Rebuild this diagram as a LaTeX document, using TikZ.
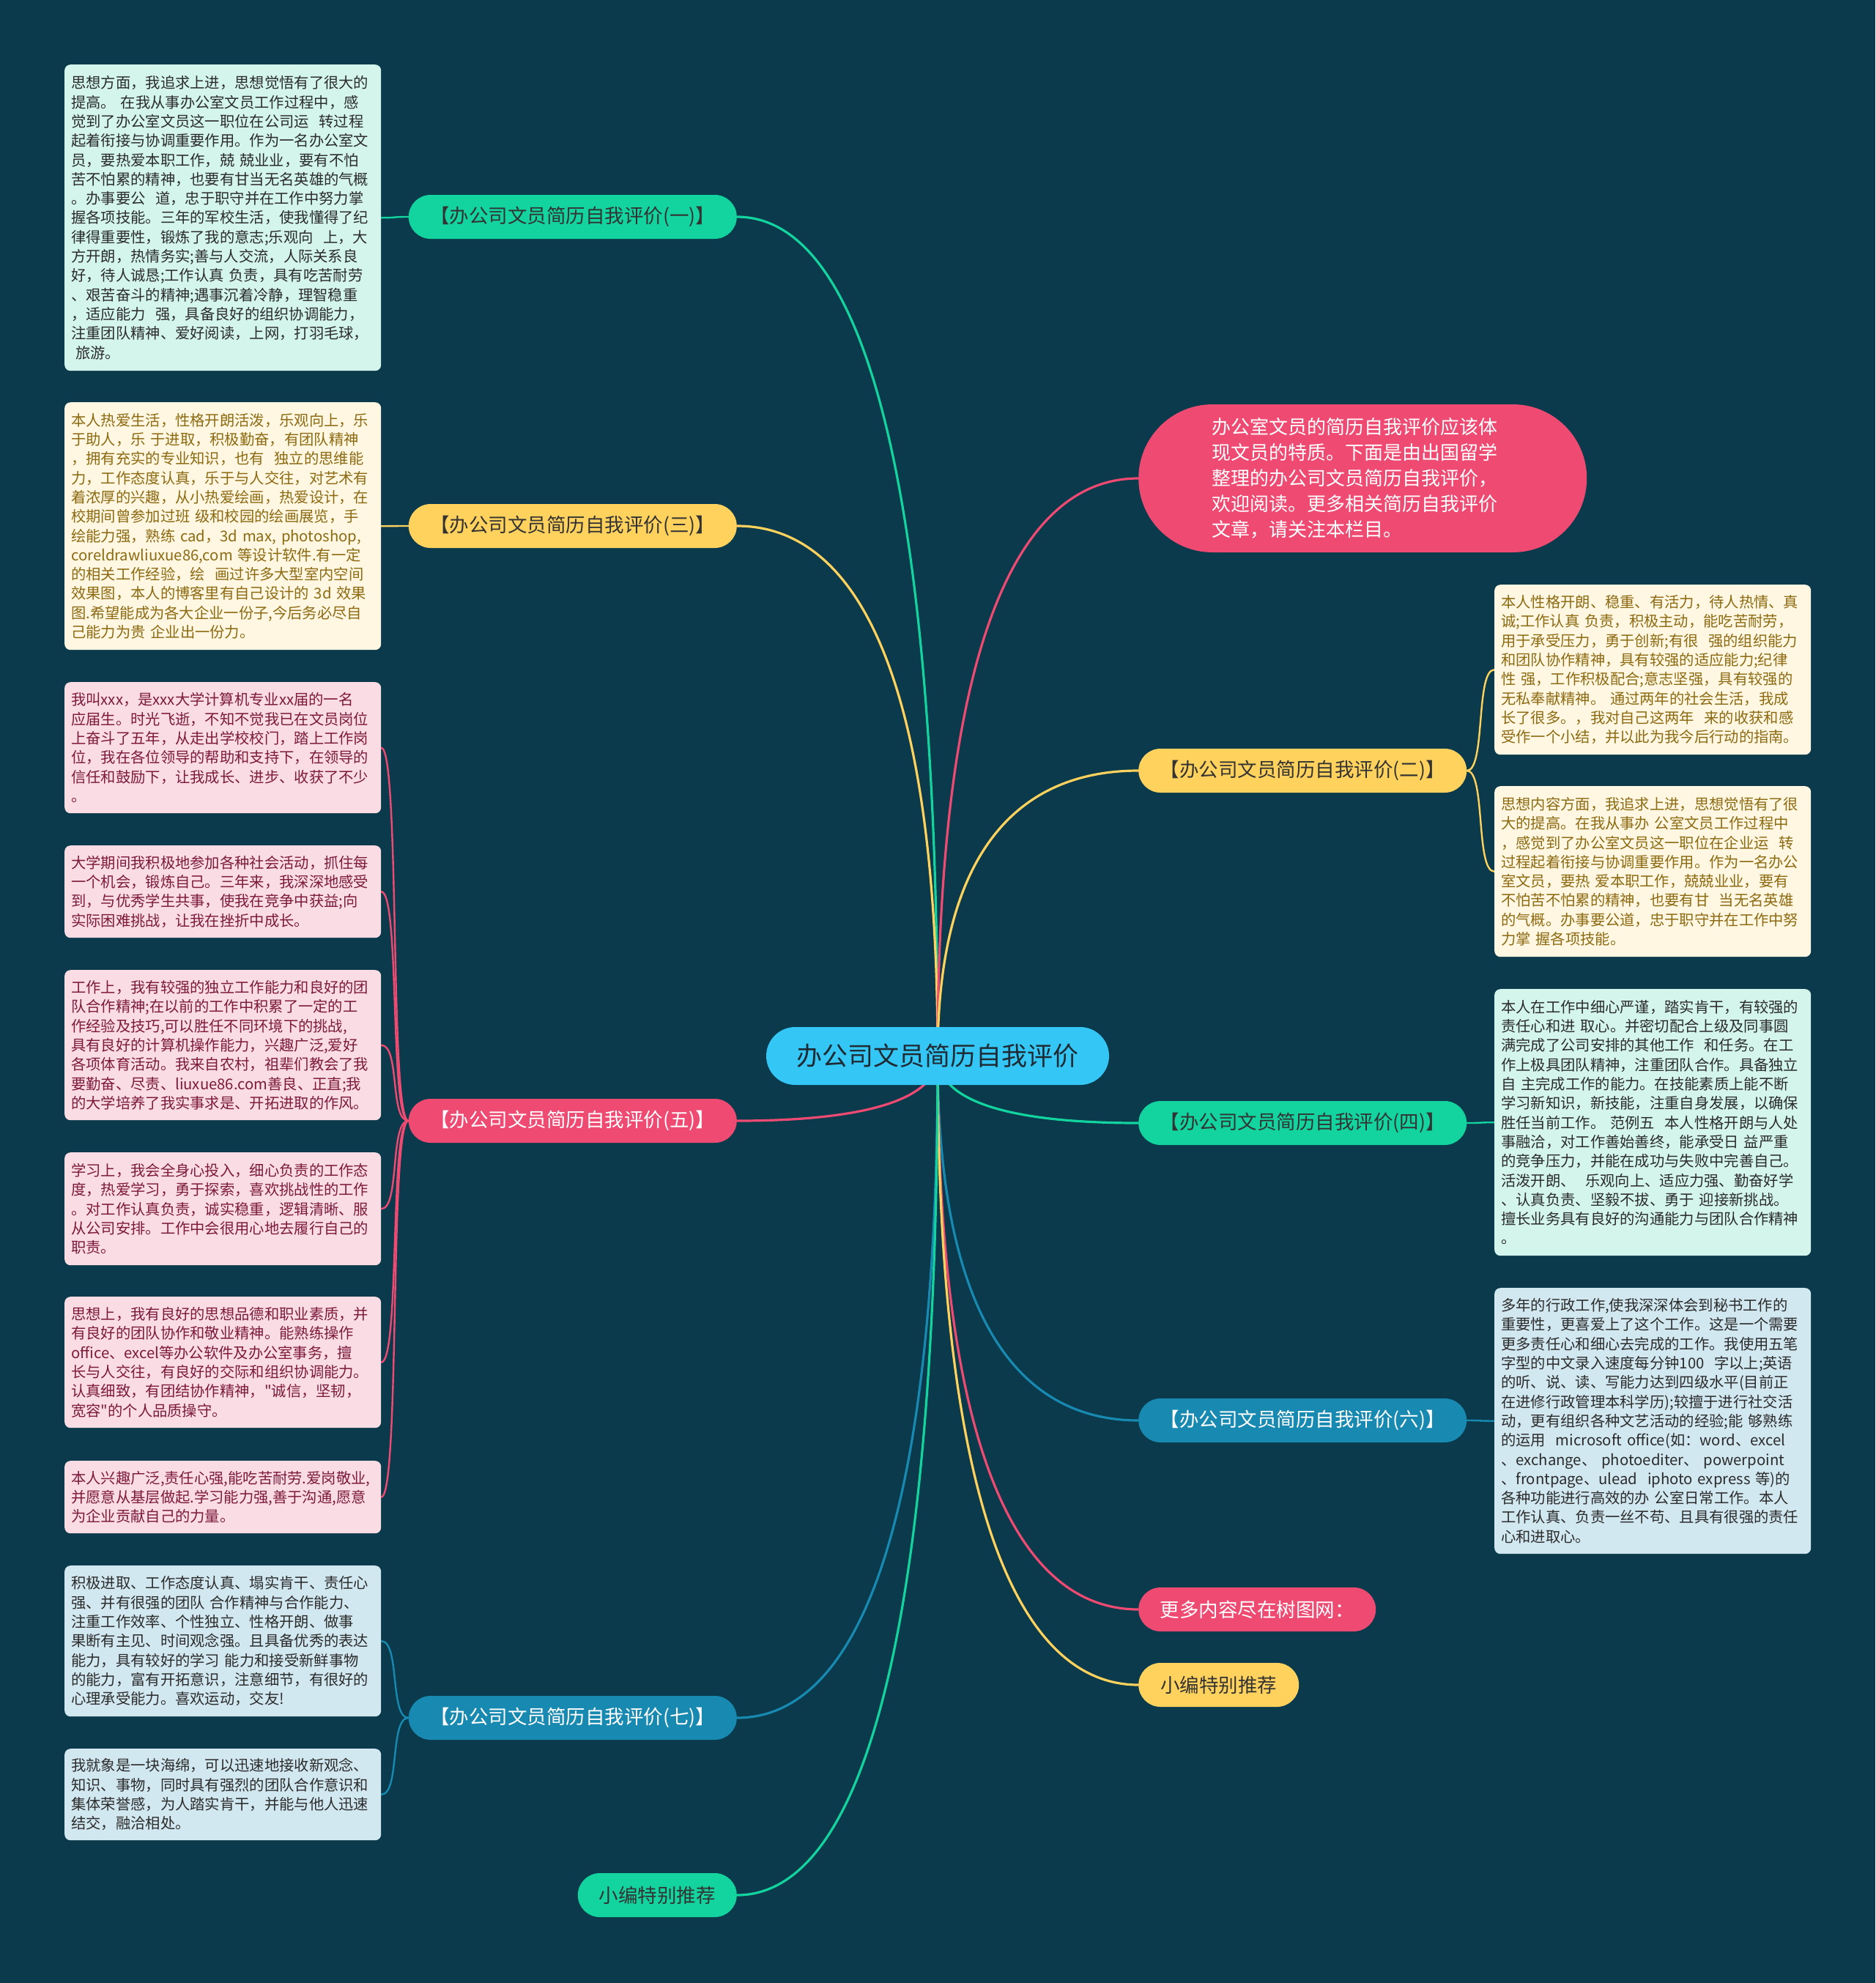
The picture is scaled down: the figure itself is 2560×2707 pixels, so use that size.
\documentclass[tikz,border=0pt]{standalone}
\usepackage{fontspec}
\setmainfont{Noto Sans CJK SC}
\newfontfamily\qfont{Noto Sans CJK SC}[Ligatures=TeXOff]
\pgfdeclarelayer{back}
\pgfdeclarelayer{lines}
\pgfsetlayers{back,lines,main}
\definecolor{bgc}{HTML}{0A3A4B}
\definecolor{cgreen}{HTML}{13D39E}
\definecolor{cyellow}{HTML}{FFD25E}
\definecolor{cpink}{HTML}{EE4A72}
\definecolor{cblue}{HTML}{1889B0}
\definecolor{ccenter}{HTML}{34C6F4}
\definecolor{fmint}{HTML}{D3F5EC}
\definecolor{fcream}{HTML}{FFF7E1}
\definecolor{fpink}{HTML}{FADDE4}
\definecolor{fblue}{HTML}{D2E8F0}
\definecolor{tdark}{HTML}{2B2B2B}
\definecolor{tbrown}{HTML}{8C6A12}
\definecolor{tmaroon}{HTML}{7D1A3C}
\definecolor{tlone}{HTML}{333333}
\definecolor{tcenter}{HTML}{1F2A33}
\begin{document}
\begin{tikzpicture}[x=1pt,y=-1pt,
  leaf/.style={rounded corners=8pt, anchor=north west, text width=414pt, inner xsep=9pt, inner ysep=3pt, align=left, font=\fontsize{20.3}{26.3}\selectfont},
  lone/.style={rounded corners=30pt, minimum height=60pt, inner xsep=6pt, inner ysep=0pt, font=\fontsize{26.5}{30}\selectfont},
  link/.style={line width=3.2pt, line cap=round},
  twig/.style={line width=2.4pt, line cap=round}]
\begin{pgfonlayer}{back}
\fill[bgc] (0,0) rectangle (2560,2707);
\end{pgfonlayer}

% centre
\node[fill=ccenter, text=tcenter, minimum width=468pt, minimum height=79pt, rounded corners=39.5pt, inner sep=0pt, font=\fontsize{35}{40}\selectfont] (c) at (1280,1441.5) {办公司文员简历自我评价};

% left first level
\node[lone, fill=cgreen, text=tlone, minimum width=448pt, anchor=east] (n1) at (1006,296) {【办公司文员简历自我评价(一)】};
\node[lone, fill=cyellow, text=tlone, minimum width=448pt, anchor=east] (n3) at (1006,718) {【办公司文员简历自我评价(三)】};
\node[lone, fill=cpink, text=white, minimum width=448pt, anchor=east] (n5) at (1006,1530) {【办公司文员简历自我评价(五)】};
\node[lone, fill=cblue, text=white, minimum width=448pt, anchor=east] (n7) at (1006,2345) {【办公司文员简历自我评价(七)】};
\node[lone, fill=cgreen, text=tlone, minimum width=217pt, anchor=east] (xl) at (1006,2587) {小编特别推荐};

% right first level
\node[fill=cpink, text=white, minimum width=612pt, minimum height=202pt, rounded corners=101pt, anchor=west, text width=412pt, inner xsep=100pt, align=left, font=\fontsize{26}{35}\selectfont] (d) at (1554,653) {办公室文员的简历自我评价应该体\\现文员的特质。下面是由出国留学\\整理的办公司文员简历自我评价，\\欢迎阅读。更多相关简历自我评价\\文章，请关注本栏目。};
\node[lone, fill=cyellow, text=tlone, minimum width=448pt, anchor=west] (n2) at (1554,1052) {【办公司文员简历自我评价(二)】};
\node[lone, fill=cgreen, text=tlone, minimum width=448pt, anchor=west] (n4) at (1554,1533) {【办公司文员简历自我评价(四)】};
\node[lone, fill=cblue, text=white, minimum width=448pt, anchor=west] (n6) at (1554,1939) {【办公司文员简历自我评价(六)】};
\node[lone, fill=cpink, text=white, minimum width=324pt, anchor=west] (mo) at (1554,2197) {更多内容尽在树图网：};
\node[lone, fill=cyellow, text=tlone, minimum width=219pt, anchor=west] (xr) at (1554,2300) {小编特别推荐};

% left leaves
\node[leaf, fill=fmint, text=tdark, minimum height=418pt] (b1) at (88,88) {思想方面，我追求上进，思想觉悟有了很大的\\提高。 在我从事办公室文员工作过程中，感\\觉到了办公室文员这一职位在公司运\ \ 转过程\\起着衔接与协调重要作用。作为一名办公室文\\员，要热爱本职工作，兢 兢业业，要有不怕\\苦不怕累的精神，也要有甘当无名英雄的气概\\。办事要公\ \ 道，忠于职守并在工作中努力掌\\握各项技能。三年的军校生活，使我懂得了纪\\律得重要性，锻炼了我的意志;乐观向\ \ 上，大\\方开朗，热情务实;善与人交流，人际关系良\\好，待人诚恳;工作认真 负责，具有吃苦耐劳\\、艰苦奋斗的精神;遇事沉着冷静，理智稳重\\，适应能力\ \ 强，具备良好的组织协调能力，\\注重团队精神、爱好阅读，上网，打羽毛球，\\\hspace*{6pt}旅游。};
\node[leaf, fill=fcream, text=tbrown, minimum height=338pt] (b3) at (88,549) {本人热爱生活，性格开朗活泼，乐观向上，乐\\于助人，乐 于进取，积极勤奋，有团队精神\\，拥有充实的专业知识，也有\ \ 独立的思维能\\力，工作态度认真，乐于与人交往，对艺术有\\着浓厚的兴趣，从小热爱绘画，热爱设计，在\\校期间曾参加过班 级和校园的绘画展览，手\\绘能力强，熟练 cad，3d max, photoshop,\\coreldrawliuxue86,com 等设计软件.有一定\\的相关工作经验，绘\ \ 画过许多大型室内空间\\效果图，本人的博客里有自己设计的 3d 效果\\图.希望能成为各大企业一份子,今后务必尽自\\己能力为贵 企业出一份力。};
\node[leaf, fill=fpink, text=tmaroon, minimum height=179pt] (b5a) at (88,931) {我叫xxx，是xxx大学计算机专业xx届的一名\\应届生。时光飞逝，不知不觉我已在文员岗位\\上奋斗了五年，从走出学校校门，踏上工作岗\\位，我在各位领导的帮助和支持下，在领导的\\信任和鼓励下，让我成长、进步、收获了不少\\。};
\node[leaf, fill=fpink, text=tmaroon, minimum height=126pt] (b5b) at (88,1154) {大学期间我积极地参加各种社会活动，抓住每\\一个机会，锻炼自己。三年来，我深深地感受\\到，与优秀学生共事，使我在竞争中获益;向\\实际困难挑战，让我在挫折中成长。};
\node[leaf, fill=fpink, text=tmaroon, minimum height=205pt] (b5c) at (88,1324) {工作上，我有较强的独立工作能力和良好的团\\队合作精神;在以前的工作中积累了一定的工\\作经验及技巧,可以胜任不同环境下的挑战,\\具有良好的计算机操作能力，兴趣广泛,爱好\\各项体育活动。我来自农村，祖辈们教会了我\\要勤奋、尽责、liuxue86.com善良、正直;我\\的大学培养了我实事求是、开拓进取的作风。};
\node[leaf, fill=fpink, text=tmaroon, minimum height=154pt] (b5d) at (88,1573) {学习上，我会全身心投入，细心负责的工作态\\度，热爱学习，勇于探索，喜欢挑战性的工作\\。对工作认真负责，诚实稳重，逻辑清晰、服\\从公司安排。工作中会很用心地去履行自己的\\职责。};
\node[leaf, fill=fpink, text=tmaroon, minimum height=179pt] (b5e) at (88,1770) {思想上，我有良好的思想品德和职业素质，并\\有良好的团队协作和敬业精神。能熟练操作\\office、excel等办公软件及办公室事务，擅\\长与人交往，有良好的交际和组织协调能力。\\认真细致，有团结协作精神，{\qfont"}诚信，坚韧，\\宽容{\qfont"}的个人品质操守。};
\node[leaf, fill=fpink, text=tmaroon, minimum height=99pt] (b5f) at (88,1994) {本人兴趣广泛,责任心强,能吃苦耐劳.爱岗敬业,\\并愿意从基层做起.学习能力强,善于沟通,愿意\\为企业贡献自己的力量。};
\node[leaf, fill=fblue, text=tdark, minimum height=206pt] (b7a) at (88,2137) {积极进取、工作态度认真、塌实肯干、责任心\\强、并有很强的团队 合作精神与合作能力、\\注重工作效率、个性独立、性格开朗、做事\\果断有主见、时间观念强。且具备优秀的表达\\能力，具有较好的学习 能力和接受新鲜事物\\的能力，富有开拓意识，注意细节，有很好的\\心理承受能力。喜欢运动，交友!};
\node[leaf, fill=fblue, text=tdark, minimum height=125pt] (b7b) at (88,2387) {我就象是一块海绵，可以迅速地接收新观念、\\知识、事物，同时具有强烈的团队合作意识和\\集体荣誉感，为人踏实肯干，并能与他人迅速\\结交，融洽相处。};

% right leaves
\node[leaf, fill=fcream, text=tbrown, minimum height=232pt] (b2a) at (2040,798) {本人性格开朗、稳重、有活力，待人热情、真\\诚;工作认真 负责，积极主动，能吃苦耐劳，\\用于承受压力，勇于创新;有很\ \ 强的组织能力\\和团队协作精神，具有较强的适应能力;纪律\\性 强，工作积极配合;意志坚强，具有较强的\\无私奉献精神。 通过两年的社会生活，我成\\长了很多。，我对自己这两年\ \ 来的收获和感\\受作一个小结，并以此为我今后行动的指南。};
\node[leaf, fill=fcream, text=tbrown, minimum height=233pt] (b2b) at (2040,1073) {思想内容方面，我追求上进，思想觉悟有了很\\大的提高。在我从事办 公室文员工作过程中\\，感觉到了办公室文员这一职位在企业运\ \ 转\\过程起着衔接与协调重要作用。作为一名办公\\室文员，要热 爱本职工作，兢兢业业，要有\\不怕苦不怕累的精神，也要有甘\ \ 当无名英雄\\的气概。办事要公道，忠于职守并在工作中努\\力掌 握各项技能。};
\node[leaf, fill=fmint, text=tdark, minimum height=364pt] (b4) at (2040,1350) {本人在工作中细心严谨，踏实肯干，有较强的\\责任心和进 取心。并密切配合上级及同事圆\\满完成了公司安排的其他工作\ \ 和任务。在工\\作上极具团队精神，注重团队合作。具备独立\\自 主完成工作的能力。在技能素质上能不断\\学习新知识，新技能，注重自身发展，以确保\\胜任当前工作。 范例五\ \ 本人性格开朗与人处\\事融洽，对工作善始善终，能承受日 益严重\\的竞争压力，并能在成功与失败中完善自己。\\活泼开朗、\ \ 乐观向上、适应力强、勤奋好学\\、认真负责、坚毅不拔、勇于 迎接新挑战。\\擅长业务具有良好的沟通能力与团队合作精神\\。};
\node[leaf, fill=fblue, text=tdark, minimum height=363pt] (b6) at (2040,1758) {多年的行政工作,使我深深体会到秘书工作的\\重要性，更喜爱上了这个工作。这是一个需要\\更多责任心和细心去完成的工作。我使用五笔\\字型的中文录入速度每分钟100\ \ 字以上;英语\\的听、说、读、写能力达到四级水平(目前正\\在进修行政管理本科学历);较擅于进行社交活\\动，更有组织各种文艺活动的经验;能 够熟练\\的运用\ \ microsoft office(如：word、excel\\、exchange、 photoediter、 powerpoint\\、frontpage、ulead\ \ iphoto express 等)的\\各种功能进行高效的办 公室日常工作。本人\\工作认真、负责一丝不苟、且具有很强的责任\\心和进取心。};

\begin{pgfonlayer}{lines}
% main links
\draw[link, cgreen] (c.center) .. controls (1280,525) and (1143,296) .. (n1.east);
\draw[link, cyellow] (c.center) .. controls (1280,863) and (1143,718) .. (n3.east);
\draw[link, cpink] (c.center) .. controls (1280,811) and (1417,653) .. (d.west);
\draw[link, cyellow] (c.center) .. controls (1280,1130) and (1417,1052) .. (n2.west);
\draw[link, cpink] (c.center) .. controls (1280,1512) and (1143,1530) .. (n5.east);
\draw[link, cgreen] (c.center) .. controls (1280,1515) and (1417,1533) .. (n4.west);
\draw[link, cblue] (c.center) .. controls (1280,1839) and (1417,1939) .. (n6.west);
\draw[link, cpink] (c.center) .. controls (1280,2046) and (1417,2197) .. (mo.west);
\draw[link, cyellow] (c.center) .. controls (1280,2128) and (1417,2300) .. (xr.west);
\draw[link, cblue] (c.center) .. controls (1280,2164) and (1143,2345) .. (n7.east);
\draw[link, cgreen] (c.center) .. controls (1280,2358) and (1143,2587) .. (xl.east);
% twigs
\draw[twig, cgreen] (n1.west) .. controls +(-26,0) and +(26,0) .. (b1.east);
\draw[twig, cyellow] (n3.west) .. controls +(-26,0) and +(26,0) .. (b3.east);
\foreach \b in {b5a,b5b,b5c,b5d,b5e,b5f}
  \draw[twig, cpink] (n5.west) .. controls +(-26,0) and +(26,0) .. (\b.east);
\foreach \b in {b7a,b7b}
  \draw[twig, cblue] (n7.west) .. controls +(-26,0) and +(26,0) .. (\b.east);
\foreach \b in {b2a,b2b}
  \draw[twig, cyellow] (n2.east) .. controls +(26,0) and +(-26,0) .. (\b.west);
\draw[twig, cgreen] (n4.east) .. controls +(26,0) and +(-26,0) .. (b4.west);
\draw[twig, cblue] (n6.east) .. controls +(26,0) and +(-26,0) .. (b6.west);
\end{pgfonlayer}
\end{tikzpicture}
\end{document}
